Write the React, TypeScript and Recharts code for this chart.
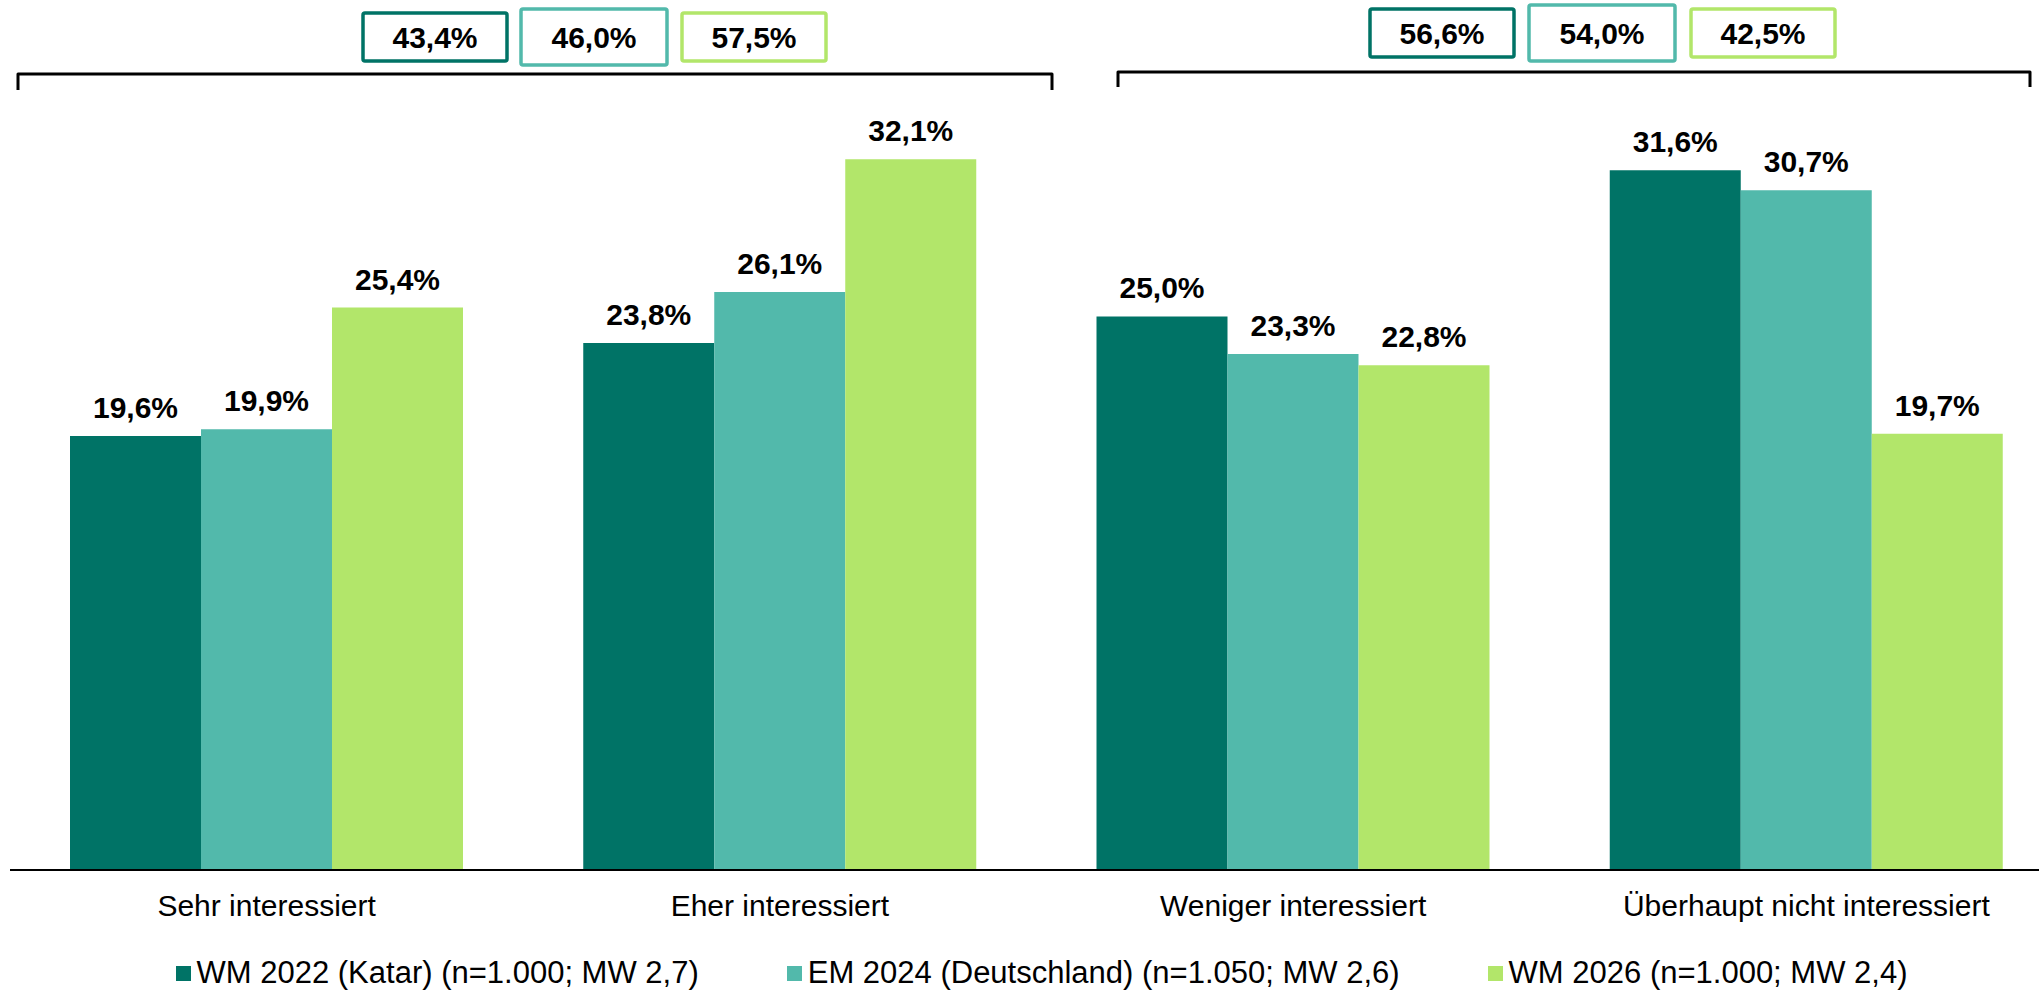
import { Bar, BarChart, LabelList, Legend, XAxis, YAxis } from "recharts";

const CATEGORIES = ["Sehr interessiert", "Eher interessiert", "Weniger interessiert", "Überhaupt nicht interessiert"];
const WM_2022 = [19.6, 23.8, 25.0, 31.6];
const EM_2024 = [19.9, 26.1, 23.3, 30.7];
const WM_2026 = [25.4, 32.1, 22.8, 19.7];
const SERIES_NAMES = [
  "WM 2022 (Katar) (n=1.000; MW 2,7)",
  "EM 2024 (Deutschland) (n=1.050; MW 2,6)",
  "WM 2026 (n=1.000; MW 2,4)",
];
const COLORS = ["#007366", "#52B9AB", "#B2E66A"];

const FONT = "'Liberation Sans', Arial, sans-serif";

const data = CATEGORIES.map((category, i) => ({
  category,
  wm2022: WM_2022[i],
  em2024: EM_2024[i],
  wm2026: WM_2026[i],
}));

const SERIES = [
  { key: "wm2022", values: WM_2022 },
  { key: "em2024", values: EM_2024 },
  { key: "wm2026", values: WM_2026 },
];

const fmt = (v: number) => v.toFixed(1).replace(".", ",") + "%";

// summed shares: "interessiert" (first two) vs. "nicht interessiert" (last two)
const sumOf = (vals: number[], from: number, to: number) => vals.slice(from, to).reduce((a, b) => a + b, 0);
const TOP_SUMS = SERIES.map((s) => sumOf(s.values, 0, 2));
const BOTTOM_SUMS = SERIES.map((s) => sumOf(s.values, 2, 4));

const renderLegend = (props: any) => {
  // keep series order (recharts sorts the payload by name)
  const payload = [...(props.payload || [])].sort(
    (a: any, b: any) => SERIES_NAMES.indexOf(a.value) - SERIES_NAMES.indexOf(b.value)
  );
  return (
    <div
      style={{
        display: "flex",
        justifyContent: "center",
        alignItems: "center",
        height: 40,
        paddingLeft: 10,
        fontFamily: FONT,
        fontSize: 31,
        color: "#000",
      }}
    >
      {payload.map((entry: any, i: number) => (
        <div
          key={i}
          style={{ display: "flex", alignItems: "center", marginRight: i < payload.length - 1 ? 88 : 0 }}
        >
          <span style={{ display: "inline-block", width: 15, height: 15, background: entry.color, marginRight: 6 }} />
          <span style={{ whiteSpace: "pre" }}>{entry.value}</span>
        </div>
      ))}
    </div>
  );
};

function SumBoxes({ sums, xs, y }: { sums: number[]; xs: number[]; y: number }) {
  return (
    <g>
      {sums.map((s, i) => {
        const tall = i === 1;
        const h = tall ? 56 : 48;
        const top = tall ? y - 4 : y;
        return (
          <g key={i}>
            <rect
              x={xs[i]}
              y={top}
              width={tall ? 146 : 144}
              height={h}
              rx={2}
              fill="#fff"
              stroke={COLORS[i]}
              strokeWidth={3.5}
            />
            <text
              x={xs[i] + (tall ? 73 : 72)}
              y={y + 35}
              textAnchor="middle"
              fontFamily={FONT}
              fontWeight="bold"
              fontSize={30}
              fill="#000"
            >
              {fmt(s)}
            </text>
          </g>
        );
      })}
    </g>
  );
}

export default function App() {
  return (
    <div
      style={{
        position: "fixed",
        left: 0,
        top: 0,
        width: 2039,
        height: 993,
        overflow: "hidden",
        background: "#fff",
      }}
    >
      <BarChart
        width={2070}
        height={993}
        data={data}
        margin={{ top: 95, right: 7, left: 10, bottom: 0 }}
        barGap={0}
      >
        <XAxis
          dataKey="category"
          height={83}
          tickLine={false}
          tickMargin={19}
          axisLine={{ stroke: "#000", strokeWidth: 2 }}
          tick={{ fontSize: 30, fill: "#000", fontFamily: FONT }}
          interval={0}
        />
        <YAxis hide domain={[0, 35]} />
        <Legend verticalAlign="bottom" content={renderLegend} />
        {SERIES.map((s, i) => (
          <Bar key={s.key} dataKey={s.key} name={SERIES_NAMES[i]} fill={COLORS[i]} barSize={131} isAnimationActive={false}>
            <LabelList
              dataKey={s.key}
              position="top"
              offset={18}
              formatter={(v: any) => fmt(Number(v))}
              style={{ fontSize: 30, fontWeight: "bold", fill: "#000", fontFamily: FONT }}
            />
          </Bar>
        ))}
      </BarChart>
      <svg
        width={2039}
        height={120}
        style={{ position: "absolute", left: 0, top: 0, pointerEvents: "none" }}
      >
        <path d="M18,90 V74 H1052 V90" fill="none" stroke="#000" strokeWidth={3} strokeLinejoin="round" />
        <path d="M1118,87 V72 H2030 V87" fill="none" stroke="#000" strokeWidth={3} strokeLinejoin="round" />
        <SumBoxes sums={TOP_SUMS} xs={[363, 521, 682]} y={13} />
        <SumBoxes sums={BOTTOM_SUMS} xs={[1370, 1529, 1691]} y={9} />
      </svg>
    </div>
  );
}
